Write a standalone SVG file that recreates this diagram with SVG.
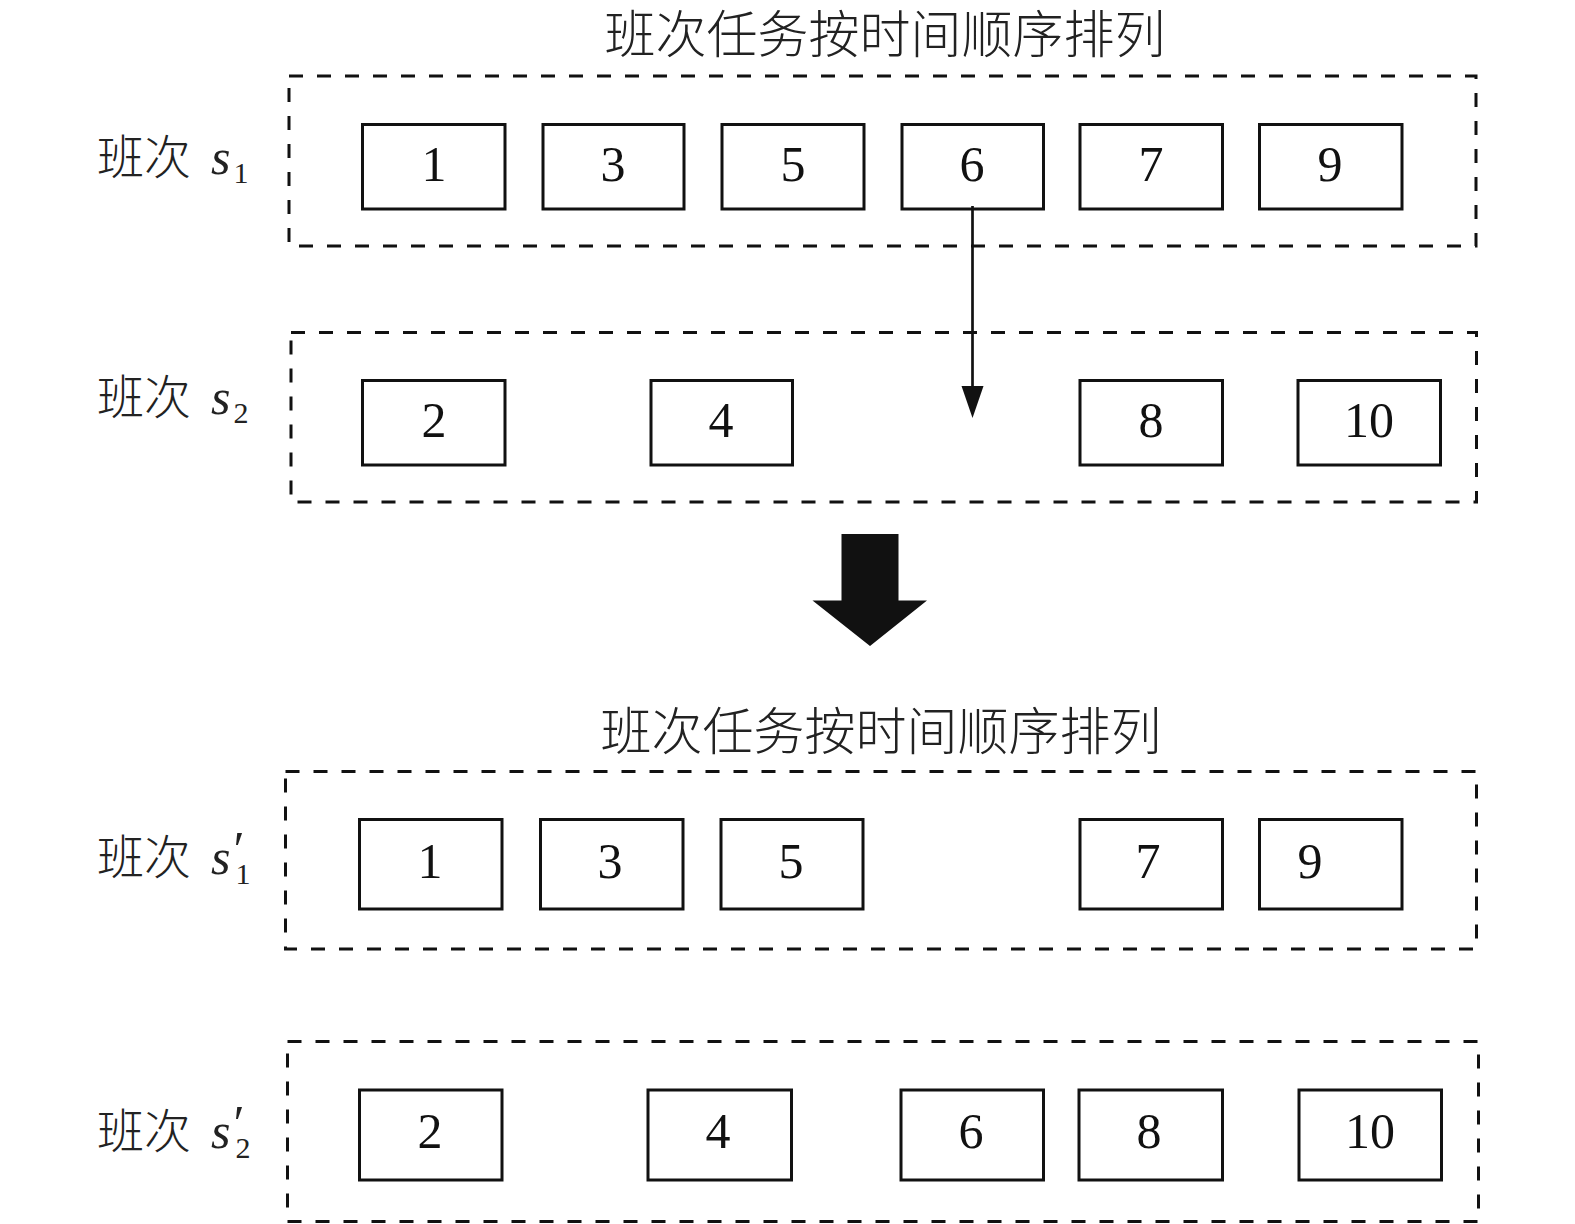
<svg xmlns="http://www.w3.org/2000/svg" width="1575" height="1224" viewBox="0 0 1575 1224">
<style>
.dash{fill:none;stroke:#111;stroke-width:3;stroke-dasharray:14 14}
.box{fill:#fff;stroke:#111;stroke-width:3}
.num{font-family:"Liberation Serif",serif;font-size:50px;fill:#111;text-anchor:middle}
.title{font-family:"Noto Sans CJK SC",sans-serif;font-size:51px;font-weight:300;fill:#222;text-anchor:middle}
.lab{font-family:"Noto Sans CJK SC",sans-serif;font-size:47px;font-weight:300;fill:#222}
.it{font-family:"Liberation Serif",serif;font-style:italic;font-size:50px}
.sub{font-family:"Liberation Serif",serif;font-size:30px}
</style>
<text class="title" x="885" y="53">班次任务按时间顺序排列</text>
<text class="title" x="881" y="750">班次任务按时间顺序排列</text>

<g id="shift1">
<rect class="dash" x="289" y="76" width="1187" height="170"/>
<text class="lab" x="97" y="174">班次<tspan class="it" x="211">s</tspan><tspan class="sub" dx="3" dy="9">1</tspan></text>
<g id="s1-1"><rect class="box" x="362.5" y="124.5" width="142.5" height="84.5"/><text class="num" x="434" y="180.5">1</text></g>
<g id="s1-3"><rect class="box" x="543" y="124.5" width="141" height="84.5"/><text class="num" x="613" y="180.5">3</text></g>
<g id="s1-5"><rect class="box" x="722" y="124.5" width="142" height="84.5"/><text class="num" x="793" y="180.5">5</text></g>
<g id="s1-6"><rect class="box" x="902" y="124.5" width="141.5" height="84.5"/><text class="num" x="972" y="180.5">6</text></g>
<g id="s1-7"><rect class="box" x="1080" y="124.5" width="142.5" height="84.5"/><text class="num" x="1151" y="180.5">7</text></g>
<g id="s1-9"><rect class="box" x="1259.5" y="124.5" width="142.5" height="84.5"/><text class="num" x="1330" y="180.5">9</text></g>
</g>

<g id="shift2">
<rect class="dash" x="291" y="332.5" width="1185.5" height="169.5"/>
<text class="lab" x="97" y="414">班次<tspan class="it" x="211">s</tspan><tspan class="sub" dx="3" dy="9">2</tspan></text>
<g id="s2-2"><rect class="box" x="362.5" y="380.5" width="142.5" height="84.5"/><text class="num" x="434" y="437">2</text></g>
<g id="s2-4"><rect class="box" x="651" y="380.5" width="141.5" height="84.5"/><text class="num" x="721" y="437">4</text></g>
<g id="s2-8"><rect class="box" x="1080" y="380.5" width="142.5" height="84.5"/><text class="num" x="1151" y="437">8</text></g>
<g id="s2-10"><rect class="box" x="1298" y="380.5" width="142.5" height="84.5"/><text class="num" x="1369" y="437">10</text></g>
</g>

<g id="shift1p">
<rect class="dash" x="285.5" y="771.5" width="1191" height="177.5"/>
<text class="lab" x="97" y="874">班次<tspan class="it" x="211">s</tspan><tspan class="it" font-size="40" dx="0" dy="-8">′</tspan><tspan class="sub" dx="-6" dy="18">1</tspan></text>
<g id="s1p-1"><rect class="box" x="359.5" y="819.5" width="142.5" height="89.5"/><text class="num" x="430" y="878">1</text></g>
<g id="s1p-3"><rect class="box" x="540.5" y="819.5" width="142.5" height="89.5"/><text class="num" x="610" y="878">3</text></g>
<g id="s1p-5"><rect class="box" x="721" y="819.5" width="142" height="89.5"/><text class="num" x="791" y="878">5</text></g>
<g id="s1p-7"><rect class="box" x="1080" y="819.5" width="142.5" height="89.5"/><text class="num" x="1148" y="878">7</text></g>
<g id="s1p-9"><rect class="box" x="1259.5" y="819.5" width="142.5" height="89.5"/><text class="num" x="1310" y="878">9</text></g>
</g>

<g id="shift2p">
<rect class="dash" x="287.5" y="1041.5" width="1191" height="180"/>
<text class="lab" x="97" y="1148">班次<tspan class="it" x="211">s</tspan><tspan class="it" font-size="40" dx="0" dy="-8">′</tspan><tspan class="sub" dx="-6" dy="18">2</tspan></text>
<g id="s2p-2"><rect class="box" x="359.5" y="1090" width="142.5" height="90"/><text class="num" x="430" y="1148">2</text></g>
<g id="s2p-4"><rect class="box" x="648" y="1090" width="143.5" height="90"/><text class="num" x="718" y="1148">4</text></g>
<g id="s2p-6"><rect class="box" x="901" y="1090" width="142.5" height="90"/><text class="num" x="971" y="1148">6</text></g>
<g id="s2p-8"><rect class="box" x="1079" y="1090" width="143.5" height="90"/><text class="num" x="1149" y="1148">8</text></g>
<g id="s2p-10"><rect class="box" x="1299" y="1090" width="142.5" height="90"/><text class="num" x="1370" y="1148">10</text></g>
</g>

<g id="connectors">
<line x1="972.5" y1="206" x2="972.5" y2="390" stroke="#111" stroke-width="2.7"/>
<path d="M961.5,386 L983.5,386 L972.5,418 Z" fill="#111"/>
<path d="M841.5,534 L898.5,534 L898.5,600.5 L927,600.5 L870,646 L812.5,600.5 L841.5,600.5 Z" fill="#111"/>
</g>
</svg>
